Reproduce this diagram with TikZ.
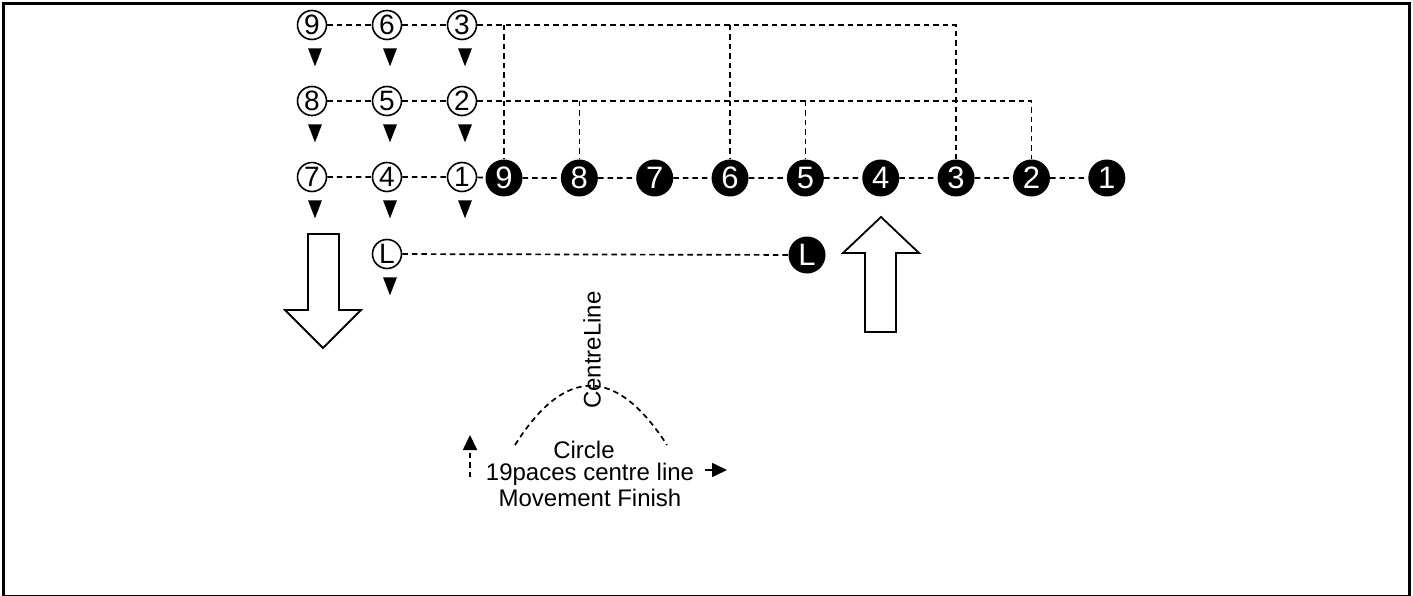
\documentclass[tikz,border=0pt]{standalone}
\usepackage{fontspec}
\setmainfont{Liberation Sans}
\usetikzlibrary{arrows.meta}

\begin{document}
\begin{tikzpicture}[x=1pt,y=-1pt,
% one unit is one pixel of the page, y running downwards
openman/.style={circle,draw,line width=1.6pt,minimum size=29pt,inner sep=0pt,
  font=\fontsize{28}{28}\selectfont},
blackman/.style={circle,fill=black,text=white,minimum size=37pt,inner sep=0pt,
  font=\fontsize{31}{31}\selectfont},
link/.style={line width=1.7pt,dash pattern=on 5.5pt off 4pt},
bigarrow/.style={draw,line width=1.8pt,fill=white,line join=miter},
label/.style={font=\fontsize{24}{24}\selectfont,inner sep=0pt,anchor=base}]

\useasboundingbox (0,0) rectangle (1413,596);
\draw[line width=3pt] (3.5,3.5) rectangle (1409.5,596);

\pgfmathsetmacro\gap{75.35}

% the three files of the squad, open circles
\foreach \c/\x in {0/312,1/387,2/462} {
  \pgfmathtruncatemacro\top{9 - 3*\c}
  \pgfmathtruncatemacro\mid{8 - 3*\c}
  \pgfmathtruncatemacro\low{7 - 3*\c}
  \node[openman] (o\top) at (\x,25) {\top};
  \node[openman] (o\mid) at (\x,101) {\mid};
  \node[openman] (o\low) at (\x,177) {\low};
}
\node[openman] (oL) at (387,254) {L};

% the line, black circles
\foreach \k in {1,...,9} {
  \node[blackman] (b\k) at ({504 + (9-\k)*\gap},178) {\k};
}
\node[blackman] (bL) at (807,255) {L};

% facing marks
\foreach \n in {o9,o6,o3,o8,o5,o2,o7,o4,o1,oL} {
  \fill ([shift={(-4,8)}]\n.south) -- ++(14,0) -- ++(-7,18) -- cycle;
}

% dressing lines
\draw[link] (o9) -- (o6) -- (o3) -- (o3 -| b3) -- (b3);
\draw[link] (b9 |- o3) -- (b9);
\draw[link] (b6 |- o3) -- (b6);
\draw[link] (o8) -- (o5) -- (o2) -- (o2 -| b2) -- (b2);
\draw[link] (b8 |- o2) -- (b8);
\draw[link] (b5 |- o2) -- (b5);
\draw[link] (o7) -- (o4) -- (o1) -- (b9) -- (b8) -- (b7) -- (b6) -- (b5)
  -- (b4) -- (b3) -- (b2) -- (b1);
\draw[link] (oL) -- (bL);

% march off and march on
\draw[bigarrow] (308,234) -- (339,234) -- (339,310) -- (361,310) -- (323,348)
  -- (285,310) -- (308,310) -- cycle;
\draw[bigarrow] (865,332) -- (896,332) -- (896,253) -- (919,253) -- (881,217)
  -- (843,253) -- (865,253) -- cycle;

% the wheel on the centre line
\draw[link] (515,445) .. controls (565,366) and (616,366) .. (667,445);
\node[label,rotate=90,anchor=center] (cl) at (592,350) {CentreLine};
\node[label] (circ) at (584,458) {Circle};
\node[label] (paces) at (590,480) {19paces centre line};
\node[label] (fin) at (590,506) {Movement Finish};

\coordinate (upfoot) at (470,477);
\coordinate (uptip) at (470,435);
\draw[link,-{Triangle[length=15pt,width=14pt]}] (upfoot) -- (uptip);
\coordinate (rfoot) at (705,470);
\coordinate (rtip) at (727,470);
\draw[line width=1.6pt,-{Triangle[length=15pt,width=14pt]}] (rfoot) -- (rtip);
\end{tikzpicture}
\end{document}
